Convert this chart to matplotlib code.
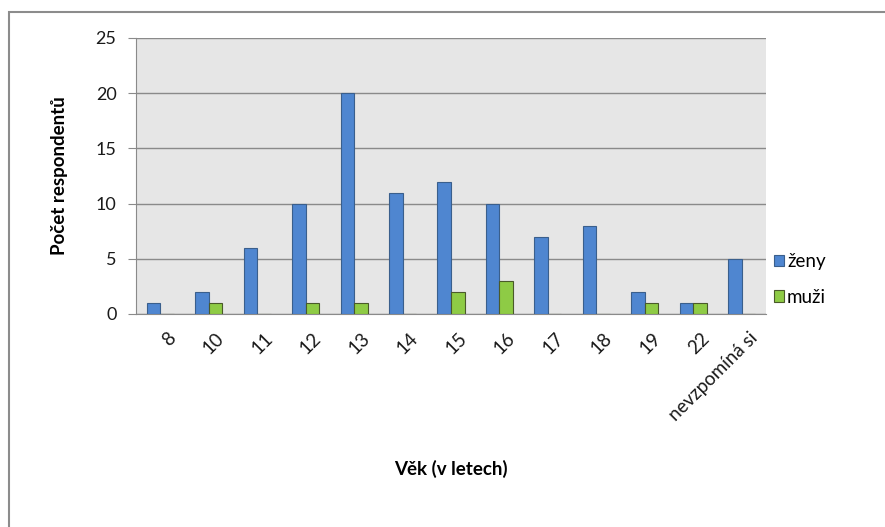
import numpy as np
import matplotlib.pyplot as plt
from matplotlib.patches import Rectangle

plt.rcParams['font.family'] = ['Lato', 'DejaVu Sans']

# age at first experience, counts by sex
vek = ['8', '10', '11', '12', '13', '14', '15', '16', '17', '18', '19', '22', 'nevzpomíná si']
zeny = [1, 2, 6, 10, 20, 11, 12, 10, 7, 8, 2, 1, 5]
muzi = [0, 1, 0, 1, 1, 0, 2, 3, 0, 0, 1, 1, 0]

fig = plt.figure(figsize=(8.85, 5.27), dpi=100)
fig.patches.append(Rectangle((9 / 885, -0.05), 1.1, 1 - 12 / 527 + 0.05,
                             transform=fig.transFigure, fill=False,
                             edgecolor='#8c8c8c', linewidth=1.5))

ax = fig.add_axes([136 / 885, 213 / 527, 630 / 885, 276 / 527])
ax.set_facecolor('#e6e6e6')

x = np.arange(len(vek))
w = 0.28
ax.bar(x - w / 2, zeny, w, color='#4f86d0', edgecolor='#3a5f8c', linewidth=0.8,
       label='ženy', zorder=3)
ax.bar(x + w / 2, muzi, w, color='#8ecb45', edgecolor='#4a5a2a', linewidth=0.8,
       label='muži', zorder=3)

ax.set_xlim(-0.5, len(vek) - 0.5)
ax.set_ylim(0, 25)
ax.set_yticks(range(0, 26, 5))
ax.yaxis.grid(True, color='#8a8a8a', linewidth=1, zorder=1)

for s in ['top', 'right']:
    ax.spines[s].set_visible(False)
ax.spines['left'].set_color('#8a8a8a')
ax.spines['bottom'].set_color('#8a8a8a')
ax.tick_params(axis='y', length=6, color='#8a8a8a', labelsize=13, pad=8,
               labelcolor='#1a1a1a')
ax.tick_params(axis='x', length=0, pad=11)

ax.set_xticks(x + 0.14)
ax.set_xticklabels(vek, rotation=45, ha='right', va='top', rotation_mode='anchor',
                   fontsize=13.5, color='#1a1a1a')

ax.set_ylabel('Počet respondentů', fontsize=13.5, fontweight='bold', labelpad=20)
ax.set_xlabel('Věk (v letech)', fontsize=13.5, fontweight='bold', labelpad=26)

fig.legend(loc='center left', bbox_to_anchor=(0.866, 0.47), frameon=False,
           handlelength=0.55, handleheight=0.55, handletextpad=0.15,
           labelspacing=1.0, fontsize=13.5, borderaxespad=0)

fig.savefig('out.png', dpi=100)
